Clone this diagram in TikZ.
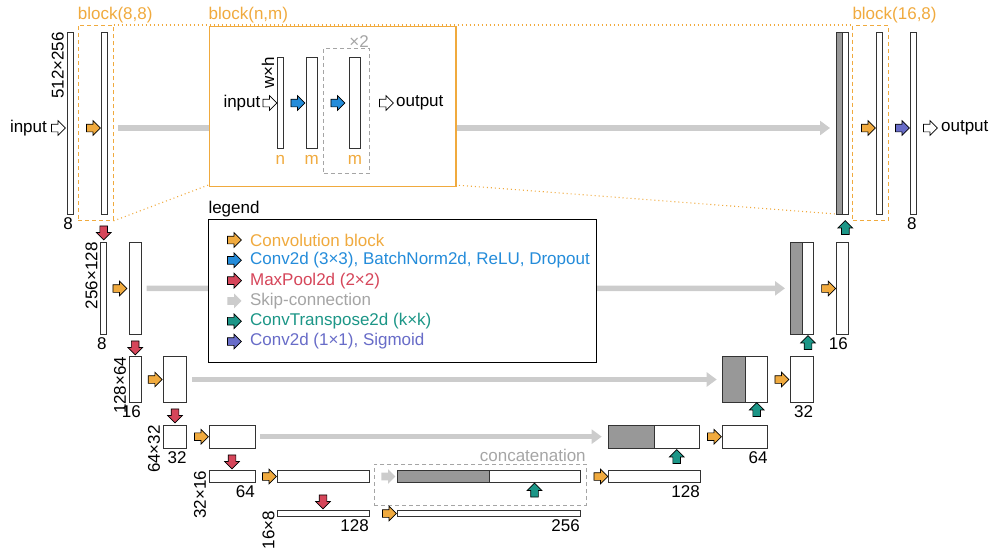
\documentclass[tikz,border=0pt]{standalone}
\usepackage{fontspec}
\setmainfont{Liberation Sans}
\usetikzlibrary{positioning,shapes.arrows,arrows.meta}

\definecolor{convorange}{RGB}{240,170,62}
\definecolor{bnblue}{RGB}{36,140,218}
\definecolor{poolred}{RGB}{214,70,90}
\definecolor{skipgray}{RGB}{204,204,204}
\definecolor{upteal}{RGB}{28,150,135}
\definecolor{sigpurple}{RGB}{104,108,200}
\definecolor{concatgray}{RGB}{152,152,152}
\definecolor{labelgray}{RGB}{165,165,165}

\begin{document}
\begin{tikzpicture}[
    x=1pt, y=-1pt,
    every node/.style={font=\fontsize{17}{20}\selectfont},
    bar/.style={draw=black!80, line width=0.8pt, fill=white, anchor=north west, inner sep=0, outer sep=0},
    darkbar/.style={bar, fill=concatgray},
    arr/.style={single arrow, draw=black, line width=0.7pt, minimum height=14, inner xsep=0, inner ysep=3.5pt, single arrow head extend=3.5pt, single arrow head indent=0},
    vertarr/.style={arr, inner xsep=3.5pt, inner ysep=0},
    conv/.style={arr, fill=convorange},
    cbn/.style={arr, fill=bnblue},
    pool/.style={vertarr, fill=poolred, shape border rotate=270},
    upconv/.style={vertarr, fill=upteal, shape border rotate=90},
    sigm/.style={arr, fill=sigpurple},
    io/.style={arr, fill=white},
    skiparr/.style={arr, draw=none, fill=skipgray},
    skip/.style={draw=skipgray, line width=5.5pt, -{Triangle[length=10pt,width=14pt]}},
    dimlabel/.style={rotate=90, anchor=south east, inner xsep=0, inner ysep=3pt},
    sizelabel/.style={anchor=north east, inner xsep=0, inner ysep=3pt},
    chlabel/.style={anchor=base, text=convorange, inner sep=0},
    blockbox/.style={draw=convorange, dash pattern=on 4pt off 3pt, line width=0.9pt, anchor=north west, inner sep=0},
    graybox/.style={draw=labelgray, dash pattern=on 4pt off 3pt, line width=0.9pt, anchor=north west, inner sep=0},
    zoomline/.style={draw=convorange, line width=1.1pt, dash pattern=on 1pt off 3pt},
    legtext/.style={inner sep=0}
]
\useasboundingbox (0,0) rectangle (990,549);

% level 1 (512x256)
\node[bar, minimum width=6, minimum height=182] (e1a) at (67,32) {};
\node[dimlabel] at (e1a.north west) {512×256};
\node[sizelabel] at (e1a.south east) {8};
\node[io] (in1) at (56.5,128) {};
\node[left=4pt of in1, inner sep=0] {input};
\node[conv] at (91.5,128) {};
\node[bar, minimum width=6, minimum height=182] (e1b) at (101,32) {};
\node[blockbox, minimum width=35, minimum height=195] (b88) at (77.7,25) {};
\node[anchor=south west, text=convorange, inner xsep=0, inner ysep=2pt] at (b88.north west) {block(8,8)};

\node[darkbar, minimum width=6.3, minimum height=182] (d1c) at (836,32) {};
\node[bar, minimum width=6, minimum height=182] (d1w) at (842.3,32) {};
\node[blockbox, minimum width=35.4, minimum height=195] (b168) at (852.3,25) {};
\node[anchor=south west, text=convorange, inner xsep=0, inner ysep=2pt] at (b168.north west) {block(16,8)};
\node[conv] at (866.5,128) {};
\node[bar, minimum width=6.3, minimum height=182] (d1a) at (876,32) {};
\node[sigm] at (900.5,128) {};
\node[bar, minimum width=6, minimum height=182] (d1b) at (910.7,32) {};
\node[sizelabel] at (d1b.south east) {8};
\node[io] (out1) at (928.5,128) {};
\node[right=3pt of out1, inner sep=0] {output};
\node[upconv] at (845.3,229.5) {};

% level 2 (256x128)
\node[pool] at (103.7,231) {};
\node[bar, minimum width=6, minimum height=92] (e2a) at (100.7,242.3) {};
\node[dimlabel] at (e2a.north west) {256×128};
\node[sizelabel] at (e2a.south east) {8};
\node[conv] at (118,288.5) {};
\node[bar, minimum width=11.7, minimum height=92] (e2b) at (129.3,242.3) {};
\node[darkbar, minimum width=11.6, minimum height=91.3] (d2c) at (790.7,242.7) {};
\node[bar, minimum width=11, minimum height=91.3] (d2w) at (802.3,242.7) {};
\node[conv] at (826.7,288.5) {};
\node[bar, minimum width=12, minimum height=92] (d2a) at (836,242.3) {};
\node[sizelabel] at (d2a.south east) {16};
\node[upconv] at (808,344.5) {};

% level 3 (128x64)
\node[pool] at (135.2,346) {};
\node[bar, minimum width=11.7, minimum height=46] (e3a) at (129.3,356.5) {};
\node[dimlabel] at (e3a.north west) {128×64};
\node[sizelabel] at (e3a.south east) {16};
\node[conv] at (153.3,379.5) {};
\node[bar, minimum width=23.4, minimum height=46] (e3b) at (163.3,356.5) {};
\node[darkbar, minimum width=23.4, minimum height=45.6] (d3c) at (722.3,356.7) {};
\node[bar, minimum width=22, minimum height=45.6] (d3w) at (745.7,356.7) {};
\node[conv] at (780,379.5) {};
\node[bar, minimum width=22.6, minimum height=45.6] (d3a) at (790.7,356.7) {};
\node[sizelabel] at (d3a.south east) {32};
\node[upconv] at (756.7,411.5) {};

% level 4 (64x32)
\node[pool] at (175,414) {};
\node[bar, minimum width=23.4, minimum height=23.3] (e4a) at (163.3,425) {};
\node[dimlabel] at (e4a.north west) {64×32};
\node[sizelabel] at (e4a.south east) {32};
\node[conv] at (199.5,436.7) {};
\node[bar, minimum width=45.7, minimum height=23.3] (e4b) at (209.3,425) {};
\node[darkbar, minimum width=45.7, minimum height=23.3] (d4c) at (608.3,425) {};
\node[bar, minimum width=45.3, minimum height=23.3] (d4w) at (654,425) {};
\node[conv] at (712.5,436.7) {};
\node[bar, minimum width=45.4, minimum height=23.3] (d4a) at (722.3,425) {};
\node[sizelabel] at (d4a.south east) {64};
\node[upconv] at (676.7,458.5) {};

% level 5 (32x16)
\node[pool] at (232,460) {};
\node[bar, minimum width=45.7, minimum height=11.5] (e5a) at (209.3,470.7) {};
\node[dimlabel] at (e5a.north west) {32×16};
\node[sizelabel] at (e5a.south east) {64};
\node[conv] at (267.5,476.5) {};
\node[bar, minimum width=91.3, minimum height=11.5] (e5b) at (277.7,470.7) {};
\node[graybox, minimum width=212, minimum height=41] (cat) at (374,464) {};
\node[anchor=south east, text=labelgray, inner xsep=1pt, inner ysep=2pt] at (cat.north east) {concatenation};
\node[skiparr] at (386.5,476.5) {};
\node[darkbar, minimum width=91.7, minimum height=11.5] (d5c) at (397.3,470.7) {};
\node[bar, minimum width=91, minimum height=11.5] (d5w) at (489,470.7) {};
\node[conv] at (599,476.5) {};
\node[bar, minimum width=91.7, minimum height=11.5] (d5a) at (608.3,470.7) {};
\node[sizelabel] at (d5a.south east) {128};
\node[upconv] at (534.5,492) {};

% level 6 (16x8)
\node[pool] at (323,500) {};
\node[bar, minimum width=91.3, minimum height=5.7] (e6a) at (277.7,510.7) {};
\node[dimlabel] at (e6a.north west) {16×8};
\node[sizelabel] at (e6a.south east) {128};
\node[conv] at (387.5,513.5) {};
\node[bar, minimum width=182.7, minimum height=5.7] (e6b) at (397.3,510.7) {};
\node[sizelabel] at (e6b.south east) {256};

% skip-connections
\draw[skip] ([xshift=11pt,yshift=-5pt]e1b.east) -- ([xshift=-6pt,yshift=-5pt]d1c.west);
\draw[skip] ([xshift=5.7pt]e2b.east) -- ([xshift=-5.7pt]d2c.west);
\draw[skip] ([xshift=5.6pt]e3b.east) -- ([xshift=-5.6pt]d3c.west);
\draw[skip] ([xshift=5pt]e4b.east) -- ([xshift=-6.6pt]d4c.west);

% zoom lines
\draw[zoomline] (b88.north east) -- (b168.north west);
\draw[zoomline] (b88.south east) -- (208.5,185);
\draw[zoomline] (455,185) -- (d1c.south west);

% block(n,m)
\node[draw=convorange, line width=1.6pt, fill=white, anchor=north west, inner sep=0, minimum width=246.5, minimum height=160] (bnm) at (208.5,25.5) {};
\node[anchor=south west, text=convorange, inner xsep=0, inner ysep=2pt] at (bnm.north west) {block(n,m)};
\node[bar, minimum width=6, minimum height=91] (n1) at (277.3,57) {};
\node[dimlabel] at (n1.north west) {w×h};
\node[chlabel] at ([yshift=-16pt]n1.south) {n};
\node[io] (in2) at (268,103) {};
\node[left=2pt of in2, inner sep=0] {input};
\node[cbn] at (296,103) {};
\node[bar, minimum width=11.3, minimum height=91] (m1) at (306,57) {};
\node[chlabel] at ([yshift=-16pt]m1.south) {m};
\node[graybox, minimum width=45.7, minimum height=125] (rep) at (323.3,48.3) {};
\node[anchor=south east, text=labelgray, inner sep=1pt] at (rep.north east) {×2};
\node[cbn] at (336,103) {};
\node[bar, minimum width=11.7, minimum height=91] (m2) at (349,57) {};
\node[chlabel] at ([yshift=-16pt]m2.south) {m};
\node[io] (out2) at (384.5,103) {};
\node[right=2pt of out2, inner sep=0] {output};

% legend
\node[draw=black, line width=1pt, fill=white, anchor=north west, inner sep=0, minimum width=387.4, minimum height=142.7] (legend) at (208.3,219) {};
\node[anchor=south west, inner xsep=0, inner ysep=2pt] at (legend.north west) {legend};
\node[conv] (l1) at (232.5,240) {};
\node[legtext, text=convorange, right=8pt of l1] {Convolution block};
\node[cbn] (l2) at (232.5,260.3) {};
\node[legtext, text=bnblue, right=8pt of l2] {Conv2d (3×3), BatchNorm2d, ReLU, Dropout};
\node[arr, fill=poolred] (l3) at (232.5,280.6) {};
\node[legtext, text=poolred, right=8pt of l3] {MaxPool2d (2×2)};
\node[skiparr] (l4) at (232.5,300.9) {};
\node[legtext, text=labelgray, right=8pt of l4] {Skip-connection};
\node[arr, fill=upteal] (l5) at (232.5,321.2) {};
\node[legtext, text=upteal, right=8pt of l5] {ConvTranspose2d (k×k)};
\node[sigm] (l6) at (232.5,341.5) {};
\node[legtext, text=sigpurple, right=8pt of l6] {Conv2d (1×1), Sigmoid};

\end{tikzpicture}
\end{document}
